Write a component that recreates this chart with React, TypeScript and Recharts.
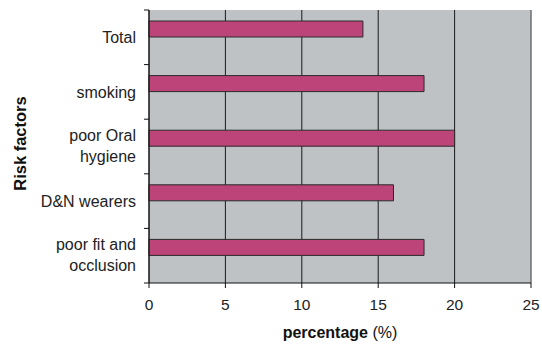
import React from "react";
import { BarChart, Bar, XAxis, YAxis, CartesianGrid, ReferenceLine, Label } from "recharts";

const categories = ["Total", "smoking", "poor Oral\nhygiene", "D&N wearers", "poor fit and\nocclusion"];
const percentages = [14, 18, 20, 16, 18];
const xTicks = [0, 5, 10, 15, 20, 25];

const data = categories.map((c, i) => ({ name: c, value: percentages[i], empty: null }));

const FONT = "'Liberation Sans', Arial, sans-serif";

const YTick = (props: any) => {
  const { x, y, payload, index, visibleTicksCount } = props;
  const off = payload && payload.offset != null ? payload.offset : 27.2;
  const lines = String(payload.value).split("\n");
  const lh = 20.5;
  const startY = y - ((lines.length - 1) * lh) / 2 - (lines.length > 1 ? 1 : 0);
  return (
    <g>
      <line x1={x - 5} x2={x} y1={y - off} y2={y - off} stroke="#111" strokeWidth={1} />
      {index === visibleTicksCount - 1 && (
        <line x1={x - 5} x2={x} y1={y + off} y2={y + off} stroke="#111" strokeWidth={1} />
      )}
      <text x={x - 13} y={startY} textAnchor="end" dominantBaseline="central" fontFamily={FONT} fontSize={16} fill="#222">
        {lines.map((l, i) => (
          <tspan key={i} x={x - 13} dy={i === 0 ? 0 : lh}>{l}</tspan>
        ))}
      </text>
    </g>
  );
};

const XLabel = (props: any) => {
  const vb = props.viewBox || {};
  const cx = vb.x + vb.width / 2;
  return (
    <text x={cx} y={vb.y + 49} textAnchor="middle" dominantBaseline="central" fontFamily={FONT} fontSize={16} fill="#111">
      <tspan fontWeight="bold">percentage</tspan>
      <tspan> (%)</tspan>
    </text>
  );
};

const YLabel = (props: any) => {
  const cx = 20;
  const cy = 143.5;
  return (
    <text x={cx} y={cy} transform={`rotate(-90 ${cx} ${cy})`} textAnchor="middle" dominantBaseline="central" fontFamily={FONT} fontSize={16.5} fontWeight="bold" fill="#111">
      Risk factors
    </text>
  );
};

export default function App() {
  return (
    <div style={{ position: "absolute", left: 0, top: 0, width: 542, height: 346, background: "#fff" }}>
      <BarChart
        width={542}
        height={346}
        data={data}
        layout="vertical"
        margin={{ top: 10, right: 11, bottom: 0, left: 0 }}
        barGap={0}
      >
        <CartesianGrid fill="#BEC2C5" stroke="#1a1a1a" horizontal={false} vertical={true} />
        <XAxis
          type="number"
          dataKey="value"
          domain={[0, 25]}
          ticks={xTicks}
          height={63}
          tickSize={5}
          tickMargin={11}
          axisLine={{ stroke: "#111" }}
          tickLine={{ stroke: "#111" }}
          tick={{ fontFamily: FONT, fontSize: 15.5, fill: "#222" }}
          interval={0}
        >
          <Label content={<XLabel />} />
        </XAxis>
        <XAxis xAxisId="top" orientation="top" type="number" domain={[0, 25]} height={0} tick={false} tickLine={false} axisLine={{ stroke: "#9a9a9a" }} />
        <YAxis
          type="category"
          dataKey="name"
          width={149}
          tickSize={0}
          tickMargin={0}
          tickLine={false}
          axisLine={{ stroke: "#111" }}
          tick={<YTick />}
          interval={0}
        >
          <Label content={<YLabel />} />
        </YAxis>
        <ReferenceLine x={25} stroke="#9a9a9a" />
        <Bar dataKey="value" barSize={16} fill="#BC4479" stroke="#2a2a2a" strokeWidth={1} isAnimationActive={false} />
        <Bar dataKey="empty" barSize={16} fill="none" isAnimationActive={false} />
      </BarChart>
    </div>
  );
}
